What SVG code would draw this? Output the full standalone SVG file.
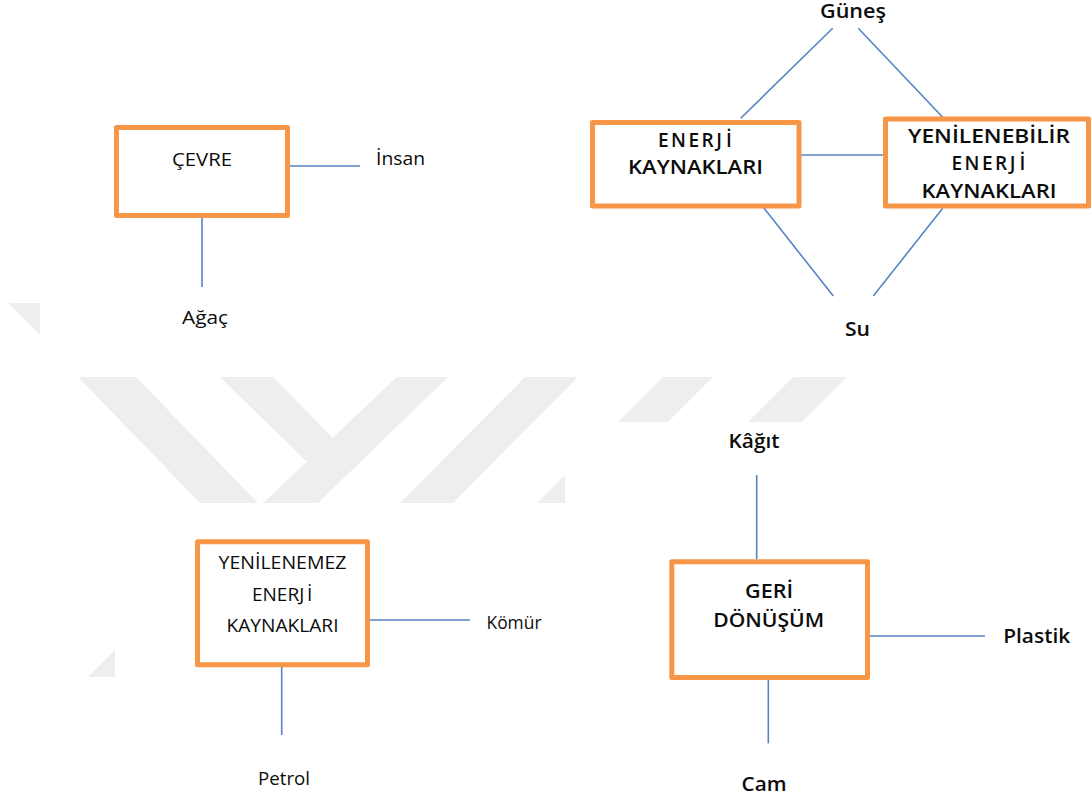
<svg xmlns="http://www.w3.org/2000/svg" width="1092" height="800" viewBox="0 0 1092 800">
  <style>
    .box { fill: #ffffff; stroke: #f79646; stroke-width: 5; stroke-linejoin: round; }
    .lbl { font-family: "Open Sans", "Noto Sans", "DejaVu Sans", sans-serif; font-size: 19px; fill: #0c0c0c; text-anchor: middle; }
    .start { text-anchor: start; }
    .strong { font-weight: 600; }
    .wide { letter-spacing: 2.5px; }
    .wire { stroke: #5684c2; stroke-width: 1.6; fill: none; }
    .mark { fill: #eeeeee; }
  </style>
  <defs>
    <clipPath id="bandClip">
      <polygon points="60,377 860,377 860,422 565,422 565,503 60,503"/>
    </clipPath>
    <clipPath id="cornerClip">
      <rect x="0" y="303" width="40" height="45"/>
    </clipPath>
    <clipPath id="lowClip">
      <rect x="88" y="633" width="27" height="44"/>
    </clipPath>
  </defs>

  <rect x="0" y="0" width="1092" height="800" fill="#ffffff"/>

  <!-- background emblem fragments -->
  <g id="emblem">
    <g clip-path="url(#bandClip)">
      <polygon class="mark" points="78,377 136,377 258,503 200,503"/>
      <polygon class="mark" points="220,377 273,377 333,438 307,462"/>
      <polygon class="mark" points="397,377 448,377 318,503 263,503"/>
      <polygon class="mark" points="525,377 578,377 453,503 400,503"/>
      <polygon class="mark" points="663,377 713,377 587,503 537,503"/>
      <polygon class="mark" points="793,377 847,377 721,503 667,503"/>
    </g>
    <g clip-path="url(#cornerClip)">
      <polygon class="mark" points="8,303 70,303 115,348 53,348"/>
    </g>
    <g clip-path="url(#lowClip)">
      <polygon class="mark" points="88,677 150,615 210,615 148,677"/>
    </g>
  </g>

  <!-- connectors -->
  <g id="connectors">
    <line class="wire" x1="290" y1="166" x2="360" y2="166"/>
    <line class="wire" x1="202" y1="218" x2="202" y2="287"/>

    <line class="wire" x1="832.7" y1="28.3" x2="740.7" y2="118.3"/>
    <line class="wire" x1="858.3" y1="28.3" x2="942.7" y2="117.3"/>
    <line class="wire" x1="800" y1="155" x2="883.3" y2="155"/>
    <line class="wire" x1="763.3" y1="207.3" x2="833.3" y2="296"/>
    <line class="wire" x1="942.7" y1="208.3" x2="873.3" y2="296"/>

    <line class="wire" x1="370" y1="620" x2="470" y2="620"/>
    <line class="wire" x1="281.7" y1="667" x2="281.7" y2="735"/>

    <line class="wire" x1="756.7" y1="475" x2="756.7" y2="559"/>
    <line class="wire" x1="870" y1="636" x2="985" y2="636"/>
    <line class="wire" x1="768.3" y1="680" x2="768.3" y2="743.3"/>
  </g>

  <!-- nodes -->
  <g id="cevre">
    <rect class="box" x="116.5" y="127.5" width="171" height="88"/>
    <text class="lbl" x="202" y="166" font-size="19.5" textLength="60" lengthAdjust="spacingAndGlyphs">ÇEVRE</text>
  </g>
  <g id="insan">
    <text class="lbl" x="400.5" y="165" textLength="49" lengthAdjust="spacingAndGlyphs">İnsan</text>
  </g>
  <g id="agac">
    <text class="lbl" x="205" y="324" font-size="19.5" textLength="46" lengthAdjust="spacingAndGlyphs">Ağaç</text>
  </g>

  <g id="enerji-kaynaklari">
    <rect class="box" x="592.5" y="122.5" width="206.5" height="83.5"/>
    <text class="lbl strong start wide" x="658" y="147" font-size="20">ENERJ<tspan x="726">İ</tspan></text>
    <text class="lbl strong" x="695.5" y="174" textLength="135" lengthAdjust="spacingAndGlyphs">KAYNAKLARI</text>
  </g>
  <g id="yenilenebilir">
    <rect class="box" x="885.5" y="119" width="203" height="87"/>
    <text class="lbl strong" x="989" y="142.7" textLength="162" lengthAdjust="spacingAndGlyphs">YENİLENEBİLİR</text>
    <text class="lbl strong start wide" x="951.5" y="170" font-size="20">ENERJ<tspan x="1019.5">İ</tspan></text>
    <text class="lbl strong" x="989" y="198.3" textLength="135" lengthAdjust="spacingAndGlyphs">KAYNAKLARI</text>
  </g>
  <g id="gunes">
    <text class="lbl strong" x="853" y="18" textLength="66" lengthAdjust="spacingAndGlyphs">Güneş</text>
  </g>
  <g id="su">
    <text class="lbl strong" x="857.5" y="336" textLength="25" lengthAdjust="spacingAndGlyphs">Su</text>
  </g>

  <g id="yenilenemez">
    <rect class="box" x="197.5" y="541.8" width="170" height="123"/>
    <text class="lbl" x="282.5" y="569.3" textLength="128" lengthAdjust="spacingAndGlyphs">YENİLENEMEZ</text>
    <text class="lbl start" x="252" y="601">ENERJ<tspan x="307">İ</tspan></text>
    <text class="lbl" x="282.5" y="631.7" textLength="112" lengthAdjust="spacingAndGlyphs">KAYNAKLARI</text>
  </g>
  <g id="komur">
    <text class="lbl" x="514" y="629.3" textLength="55" lengthAdjust="spacingAndGlyphs">Kömür</text>
  </g>
  <g id="petrol">
    <text class="lbl" x="284" y="785" textLength="52" lengthAdjust="spacingAndGlyphs">Petrol</text>
  </g>

  <g id="geri-donusum">
    <rect class="box" x="671.8" y="561.8" width="195.7" height="115.7"/>
    <text class="lbl strong" x="769" y="598.3" textLength="48" lengthAdjust="spacingAndGlyphs">GERİ</text>
    <text class="lbl strong" x="768.7" y="627.3" textLength="111" lengthAdjust="spacingAndGlyphs">DÖNÜŞÜM</text>
  </g>
  <g id="kagit">
    <text class="lbl strong" x="754" y="448.3" textLength="51" lengthAdjust="spacingAndGlyphs">Kâğıt</text>
  </g>
  <g id="plastik">
    <text class="lbl strong" x="1036.7" y="643.3" textLength="67" lengthAdjust="spacingAndGlyphs">Plastik</text>
  </g>
  <g id="cam">
    <text class="lbl strong" x="764" y="790.7" textLength="45" lengthAdjust="spacingAndGlyphs">Cam</text>
  </g>
</svg>
